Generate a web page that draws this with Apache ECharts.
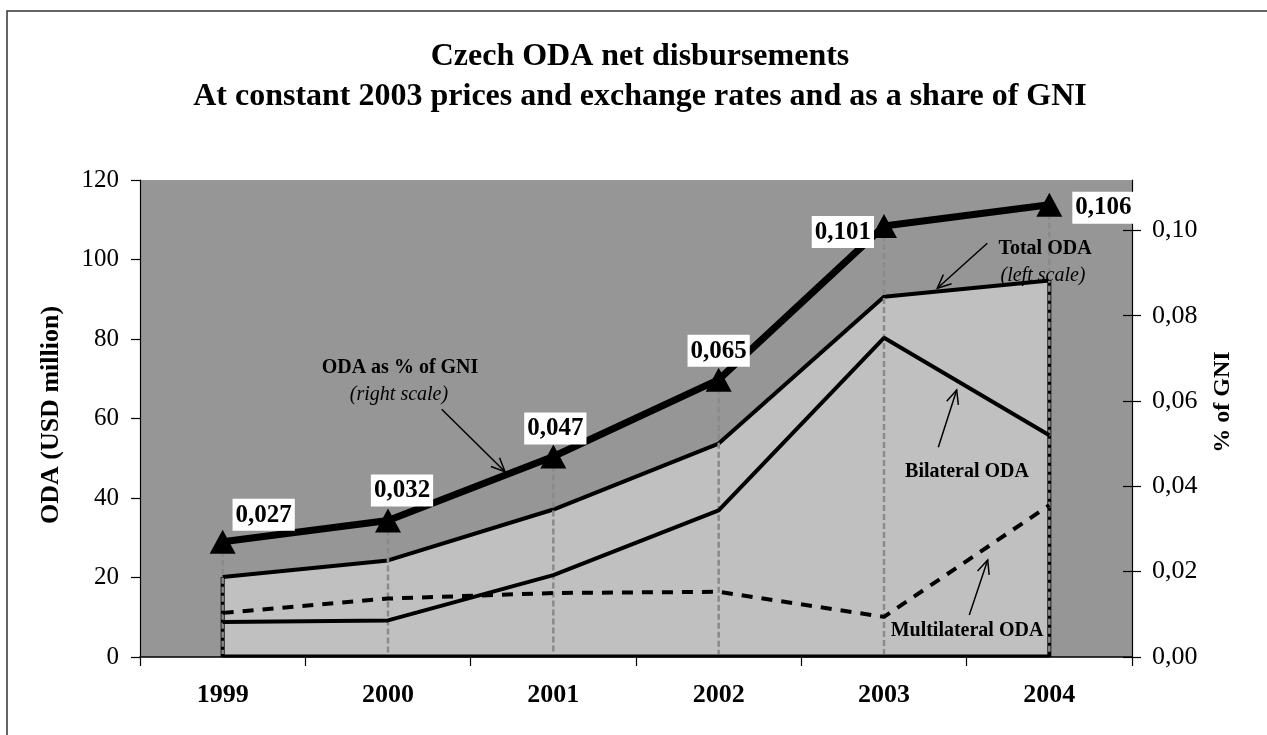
<!DOCTYPE html>
<html>
<head>
<meta charset="utf-8">
<script src="https://cdn.jsdelivr.net/npm/echarts@6/dist/echarts.min.js"></script>
<style>
  html, body { margin: 0; padding: 0; background: #fff; }
  #chart { width: 1267px; height: 735px; }
</style>
</head>
<body>
<div id="chart"></div>
<script>
// data
const years = ['1999', '2000', '2001', '2002', '2003', '2004'];
const totalOda = [20.1, 24.3, 37.1, 53.7, 90.6, 94.7];
const bilateralOda = [8.8, 9.2, 20.6, 36.9, 80.3, 55.8];
const multilateralOda = [11.1, 14.7, 16.1, 16.4, 10.1, 38.2];
const odaGni = [0.027, 0.032, 0.047, 0.065, 0.101, 0.106];
const gniTicks = [0, 0.02, 0.04, 0.06, 0.08, 0.10];

const serif = "'Liberation Serif', 'Times New Roman', serif";
const chart = echarts.init(document.getElementById('chart'));

// where each value box sits around its triangle
const gniLabelPlace = [
  { position: 'top', offset: [41, 6] },
  { position: 'top', offset: [14, 3] },
  { position: 'top', offset: [2, 5] },
  { position: 'top', offset: [0, 4] },
  { position: 'left', offset: [8, 6] },
  { position: 'right', offset: [5, 3] }
];

function arrow(x1, y1, x2, y2) {
  const a = Math.atan2(y2 - y1, x2 - x1);
  const len = 15, spread = 0.42;
  const p1 = [x2 - len * Math.cos(a - spread), y2 - len * Math.sin(a - spread)];
  const p2 = [x2 - len * Math.cos(a + spread), y2 - len * Math.sin(a + spread)];
  return {
    type: 'group',
    children: [
      { type: 'line', z: 50, shape: { x1: x1, y1: y1, x2: x2, y2: y2 }, style: { stroke: '#000', lineWidth: 1.5 } },
      { type: 'polyline', z: 50, shape: { points: [p1, [x2, y2], p2] }, style: { stroke: '#000', lineWidth: 1.5, fill: null } }
    ]
  };
}

function note(text, x, y, italic) {
  return {
    type: 'text', x: x, y: y, z: 50,
    style: {
      text: text, fill: '#000', font: (italic ? 'italic ' : 'bold ') + '20px ' + serif,
      align: 'center', verticalAlign: 'middle'
    }
  };
}

const option = {
  animation: false,
  backgroundColor: '#fff',
  title: {
    text: 'Czech ODA net disbursements\nAt constant 2003 prices and exchange rates and as a share of GNI',
    left: 635,
    top: 32,
    textAlign: 'center',
    textStyle: { fontFamily: serif, fontWeight: 'bold', fontSize: 32, lineHeight: 40, color: '#000' }
  },
  grid: {
    left: 140, right: 135, top: 180, bottom: 78,
    show: true, backgroundColor: '#969696', borderWidth: 0
  },
  xAxis: {
    type: 'category',
    data: years,
    boundaryGap: true,
    axisLine: { lineStyle: { color: '#000', width: 1.5 } },
    axisTick: { show: true, length: 9, interval: 0, lineStyle: { color: '#000', width: 1.2 } },
    axisLabel: { fontFamily: serif, fontWeight: 'bold', fontSize: 26, color: '#000', margin: 25 },
    splitLine: { show: false }
  },
  yAxis: [
    {
      type: 'value', position: 'left', min: 0, max: 120, interval: 20,
      axisLine: { show: true, lineStyle: { color: '#000', width: 1.2 } },
      axisTick: { show: true, length: 9, lineStyle: { color: '#000', width: 1.2 } },
      axisLabel: { fontFamily: serif, fontSize: 25, color: '#000', margin: 21 },
      splitLine: { show: false }
    },
    {
      type: 'value', position: 'right', min: 0, max: 0.1118, interval: 0.02,
      axisLine: { show: true, lineStyle: { color: '#000', width: 1.2 } },
      axisTick: { show: true, length: 9, customValues: gniTicks, lineStyle: { color: '#000', width: 1.2 } },
      axisLabel: {
        fontFamily: serif, fontSize: 26, color: '#000', margin: 20, customValues: gniTicks,
        formatter: v => v.toFixed(2).replace('.', ',')
      },
      splitLine: { show: false }
    },
    {
      // inner half of the right-hand ticks
      type: 'value', position: 'right', min: 0, max: 0.1118, interval: 0.02,
      axisLine: { show: false },
      axisTick: { show: true, inside: true, length: 9, customValues: gniTicks, lineStyle: { color: '#000', width: 1.2 } },
      axisLabel: { show: false },
      splitLine: { show: false }
    }
  ],
  graphic: [
    {
      type: 'rect', shape: { x: 7, y: 11, width: 1400, height: 900 },
      style: { fill: null, stroke: '#333', lineWidth: 1.5 }, z: 60, silent: true
    },
    {
      type: 'text', x: 51, y: 415, rotation: Math.PI / 2, z: 50,
      style: { text: 'ODA (USD million)', font: 'bold 26px ' + serif, fill: '#000', align: 'center', verticalAlign: 'middle' }
    },
    {
      type: 'text', x: 1223, y: 402, rotation: Math.PI / 2, z: 50,
      style: { text: '% of GNI', font: 'bold 24px ' + serif, fill: '#000', align: 'center', verticalAlign: 'middle' }
    },
    note('ODA as % of GNI', 400, 368, false),
    note('(right scale)', 399, 395, true),
    arrow(441.7, 409.3, 505, 471.7),
    note('Total ODA', 1045, 249, false),
    note('(left scale)', 1043, 276, true),
    arrow(987.3, 243.3, 937.3, 288.3),
    note('Bilateral ODA', 967, 472, false),
    arrow(938.3, 447.3, 956.7, 390),
    note('Multilateral ODA', 967, 631, false),
    arrow(969.3, 615, 987.7, 560)
  ],
  series: [
    {
      name: 'Total ODA',
      type: 'line',
      yAxisIndex: 0,
      data: totalOda,
      symbol: 'none',
      lineStyle: { color: '#000', width: 4 },
      areaStyle: { color: '#c0c0c0', opacity: 1 },
      z: 2
    },
    {
      // side and bottom edges of the total area
      name: 'Total edges',
      type: 'custom',
      yAxisIndex: 0,
      data: totalOda.map((v, i) => [i, v]),
      renderItem: function (params, api) {
        const i = api.value(0);
        const last = totalOda.length - 1;
        const kids = [];
        const base = api.coord([i, 0]);
        const top = api.coord([i, api.value(1)]);
        if (i === 0 || i === last) {
          kids.push({ type: 'line', shape: { x1: base[0], y1: base[1], x2: top[0], y2: top[1] }, style: { stroke: '#000', lineWidth: 4 } });
        }
        if (i === 0) {
          const end = api.coord([last, 0]);
          kids.push({ type: 'line', shape: { x1: base[0], y1: base[1] - 1, x2: end[0], y2: end[1] - 1 }, style: { stroke: '#000', lineWidth: 3 } });
        }
        return { type: 'group', children: kids };
      },
      z: 3
    },
    {
      // drop lines from the GNI points
      name: 'Drop lines',
      type: 'custom',
      yAxisIndex: 1,
      data: odaGni.map((v, i) => [i, v]),
      renderItem: function (params, api) {
        const top = api.coord([api.value(0), api.value(1)]);
        const base = api.coord([api.value(0), 0]);
        return {
          type: 'line',
          shape: { x1: top[0], y1: top[1], x2: base[0], y2: base[1] - 3 },
          style: { stroke: '#8a8a8a', lineWidth: 2.5, lineDash: [6, 3] }
        };
      },
      z: 4
    },
    {
      name: 'Bilateral ODA',
      type: 'line',
      yAxisIndex: 0,
      data: bilateralOda,
      symbol: 'none',
      lineStyle: { color: '#000', width: 4 },
      z: 5
    },
    {
      name: 'Multilateral ODA',
      type: 'line',
      yAxisIndex: 0,
      data: multilateralOda,
      symbol: 'none',
      lineStyle: { color: '#000', width: 4, type: [11, 9] },
      z: 5
    },
    {
      name: 'ODA as % of GNI',
      type: 'line',
      yAxisIndex: 1,
      data: odaGni.map((v, i) => ({ value: v, label: gniLabelPlace[i] })),
      symbol: 'triangle',
      symbolSize: [26, 24],
      itemStyle: { color: '#000' },
      lineStyle: { color: '#000', width: 7 },
      label: {
        show: true,
        distance: 5,
        formatter: p => p.value.toFixed(3).replace('.', ','),
        fontFamily: serif, fontWeight: 'bold', fontSize: 25, color: '#000',
        backgroundColor: '#fff', padding: [4, 3, 3, 3]
      },
      z: 6
    }
  ]
};

chart.setOption(option);
</script>
</body>
</html>
